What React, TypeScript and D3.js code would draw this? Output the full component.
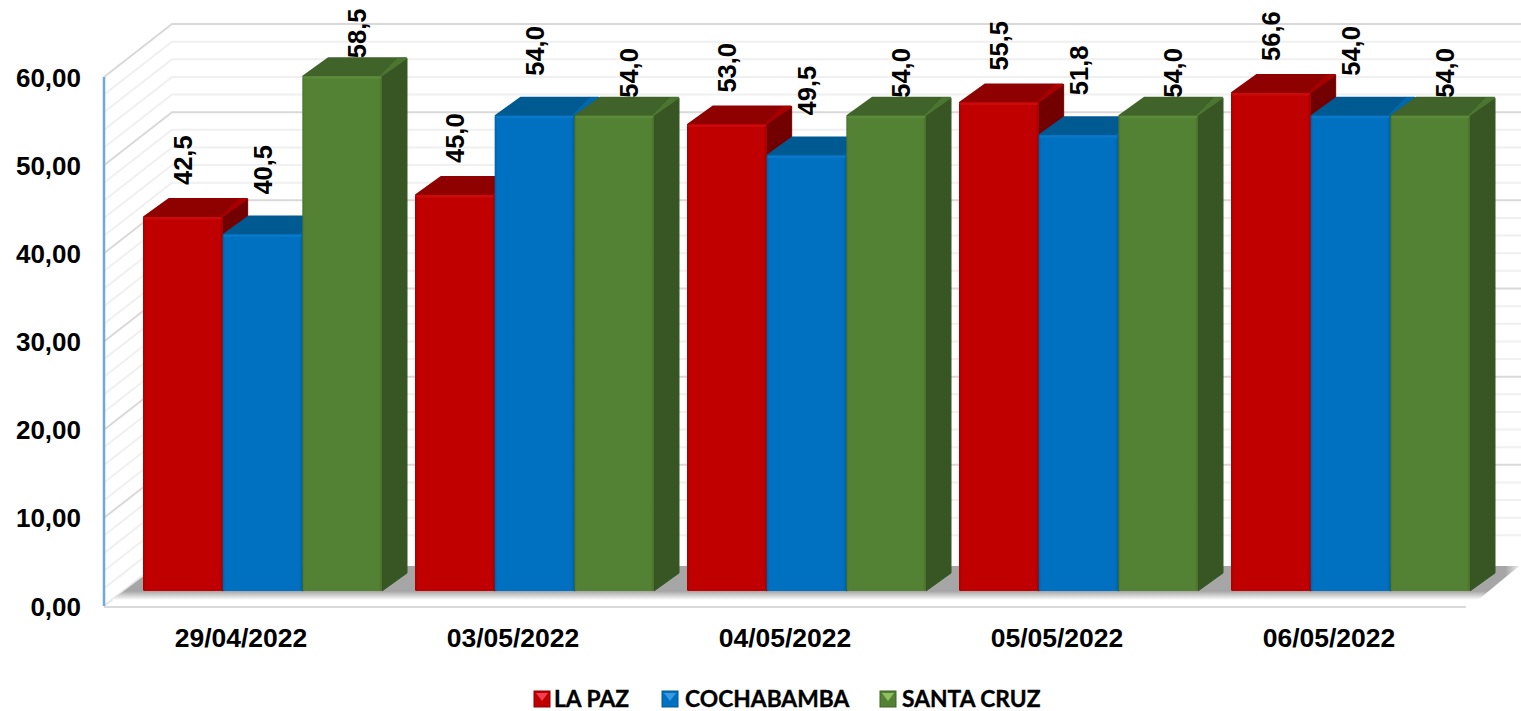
import React from "react";
import * as d3 from "d3";

const categories = ["29/04/2022", "03/05/2022", "04/05/2022", "05/05/2022", "06/05/2022"];
const seriesNames = ["LA PAZ", "COCHABAMBA", "SANTA CRUZ"];
const laPaz = [42.5, 45.0, 53.0, 55.5, 56.6];
const cochabamba = [40.5, 54.0, 49.5, 51.8, 54.0];
const santaCruz = [58.5, 54.0, 54.0, 54.0, 54.0];
const seriesValues = [laPaz, cochabamba, santaCruz];
const yTicks = [0, 10, 20, 30, 40, 50, 60];
const minorTicks = d3.range(0, 61, 2);

const palette = [
  { id: "red", front: "#c00000", edge: "#a30000", bright: "#cc0a0a", top: "#8f0000", topEdge: "#a80000", side: "#730000", tri: "#f04050" },
  { id: "blue", front: "#0070c0", edge: "#005fa3", bright: "#0a78c8", top: "#005a92", topEdge: "#0069ad", side: "#004a7a", tri: "#3a9ae0" },
  { id: "green", front: "#548235", edge: "#47702d", bright: "#5b8a3a", top: "#40632a", topEdge: "#4c7532", side: "#375623", tri: "#8fbf60" },
];

// layout
const W = 1521, H = 711;
const DX = 25, DY = -18;
const WALL_DX = 68, WALL_DY = -53;
const labelShift = [{ x: 40, y: 32 }, { x: 40, y: 40 }, { x: 55, y: 18 }];
const legendMarkerX = [534, 662, 880];
const legendTextX = [554, 685, 902];

const locale = d3.formatLocale({ decimal: ",", thousands: ".", grouping: [3], currency: ["", ""] });
const fmtTick = locale.format(".2f");
const fmtVal = locale.format(".1f");

const yBar = d3.scaleLinear().domain([0, 60]).range([591, 63]);
const yWall = d3.scaleLinear().domain([0, 60]).range([606, 77]);
const xGroup = d3.scaleBand<string>().domain(categories).range([143, 143 + 272 * 5]);
const xBar = d3.scaleBand<string>().domain(seriesNames).range([0, 239]);

const FONT = "'Liberation Sans', Arial, sans-serif";

const poly = (pts: number[][]) => pts.map((p) => p.join(",")).join(" ");

export default function App() {
  const wallLeft = 104;
  const floorRight = 1466;
  return (
    <svg width={W} height={H} viewBox={`0 0 ${W} ${H}`} style={{ position: "absolute", left: 0, top: 0, display: "block", background: "#fff" }}>
      <defs>
        {palette.map((c) => (
          <linearGradient key={c.id} id={`front-${c.id}`} x1="0" x2="1" y1="0" y2="0">
            <stop offset="0" stopColor={c.edge} />
            <stop offset="0.03" stopColor={c.front} />
            <stop offset="0.96" stopColor={c.front} />
            <stop offset="1" stopColor={c.edge} />
          </linearGradient>
        ))}
        <linearGradient id="shadow" gradientUnits="userSpaceOnUse" x1="0" x2="0" y1="566" y2="600">
          <stop offset="0" stopColor="#a6a6a6" />
          <stop offset="0.74" stopColor="#a6a6a6" />
          <stop offset="1" stopColor="#ffffff" />
        </linearGradient>
        <linearGradient id="shadowRight" gradientUnits="userSpaceOnUse" x1="1465" x2="1519" y1="0" y2="0">
          <stop offset="0" stopColor="#ffffff" stopOpacity="0" />
          <stop offset="0.75" stopColor="#ffffff" stopOpacity="0" />
          <stop offset="1" stopColor="#ffffff" stopOpacity="0.8" />
        </linearGradient>
      </defs>

      {/* walls: minor then major grid */}
      {minorTicks.filter((t) => t % 10 !== 0).map((t) => (
        <polyline key={t} fill="none" stroke="#f0f0f0" strokeWidth={2}
          points={poly([[wallLeft, yWall(t)], [wallLeft + WALL_DX, yWall(t) + WALL_DY], [W, yWall(t) + WALL_DY]])} />
      ))}
      {yTicks.filter((t) => t !== 0).map((t) => (
        <polyline key={t} fill="none" stroke="#d9d9d9" strokeWidth={2}
          points={poly([[wallLeft, yWall(t)], [wallLeft + WALL_DX, yWall(t) + WALL_DY], [W, yWall(t) + WALL_DY]])} />
      ))}

      {/* floor */}
      <polygon points={poly([[wallLeft, yWall(0)], [wallLeft + WALL_DX, yWall(0) + WALL_DY], [W, yWall(0) + WALL_DY], [W, 607], [wallLeft, 607]])} fill="#ffffff" />
      <line x1={wallLeft} x2={wallLeft + WALL_DX} y1={yWall(0)} y2={yWall(0) + WALL_DY} stroke="#e6e6e6" strokeWidth={2} />
      <line x1={wallLeft} x2={floorRight} y1={607} y2={607} stroke="#d9d9d9" strokeWidth={2} />
      <polygon points={poly([[112, 600], [157, 566], [1519, 566], [1478, 600]])} fill="url(#shadow)" />
      <polygon points={poly([[1465, 566], [1519, 566], [1478, 600], [1465, 600]])} fill="url(#shadowRight)" />

      {/* value axis */}
      <line x1={wallLeft} x2={wallLeft} y1={yWall(60)} y2={yWall(0)} stroke="#6fa8dc" strokeWidth={2.5} />
      {yTicks.map((t) => (
        <text key={t} x={81} y={yWall(t) + 9.5} textAnchor="end" fontFamily={FONT} fontWeight={700} fontSize={26} fill="#000">
          {fmtTick(t)}
        </text>
      ))}

      {/* category labels */}
      {categories.map((c) => (
        <text key={c} x={(xGroup(c) as number) + 98} y={647} textAnchor="middle" fontFamily={FONT} fontWeight={700} fontSize={26.5} fill="#000">
          {c}
        </text>
      ))}

      {/* data labels sit behind the bars */}
      {categories.map((c, i) =>
        seriesNames.map((s, k) => {
          const v = seriesValues[k][i];
          const x = (xGroup(c) as number) + (xBar(s) as number) + labelShift[k].x;
          const y = yBar(v) - labelShift[k].y;
          return (
            <text key={s} transform={`translate(${x + 9},${y}) rotate(-90)`} fontFamily={FONT} fontWeight={700} fontSize={25.5} fill="#000">
              {fmtVal(v)}
            </text>
          );
        })
      )}

      {/* bars */}
      {categories.map((c, i) =>
        seriesNames.map((s, k) => {
          const col = palette[k];
          const v = seriesValues[k][i];
          const x = (xGroup(c) as number) + (xBar(s) as number);
          const w = xBar.bandwidth();
          const y0 = yBar(0);
          const y1 = yBar(v);
          return (
            <g key={s}>
              <polygon points={poly([[x + w, y1], [x + w + DX, y1 + DY], [x + w + DX, y0 + DY], [x + w, y0]])}
                fill={col.side} stroke={col.side} strokeWidth={1} strokeLinejoin="round" />
              <polygon points={poly([[x + 1, y1], [x + 1 + DX, y1 + DY], [x + w + DX - 1, y1 + DY], [x + w - 1, y1]])}
                fill={col.top} stroke={col.top} strokeWidth={2} strokeLinejoin="round" />
              <polygon points={poly([[x + w - 2, y1], [x + w + DX - 9, y1 + DY], [x + w + DX, y1 + DY], [x + w - 1, y1]])}
                fill={col.topEdge} stroke={col.topEdge} strokeWidth={1} strokeLinejoin="round" />
              <rect x={x} y={y1} width={w} height={y0 - y1} rx={1.5} fill={`url(#front-${col.id})`} />
              <rect x={x + 1} y={y1} width={w - 2} height={2.5} rx={1} fill={col.bright} />
            </g>
          );
        })
      )}

      {/* legend */}
      {seriesNames.map((s, k) => {
        const col = palette[k];
        const mx = legendMarkerX[k];
        const size = 16;
        const yTop = 691;
        return (
          <g key={s}>
            <rect x={mx} y={yTop} width={size} height={size} fill={col.front} />
            <polygon points={poly([[mx + 2, yTop + 2], [mx + size - 2, yTop + 2], [mx + size / 2, yTop + 10]])} fill={col.tri} />
            <rect x={mx} y={yTop} width={size} height={size} fill="none" stroke={col.top} strokeWidth={1} />
            <text x={legendTextX[k]} y={707} fontFamily="Lato, 'Open Sans', sans-serif" fontWeight={700} fontSize={22.8} fill="#000" stroke="#000" strokeWidth={0.35}>
              {s}
            </text>
          </g>
        );
      })}
    </svg>
  );
}
